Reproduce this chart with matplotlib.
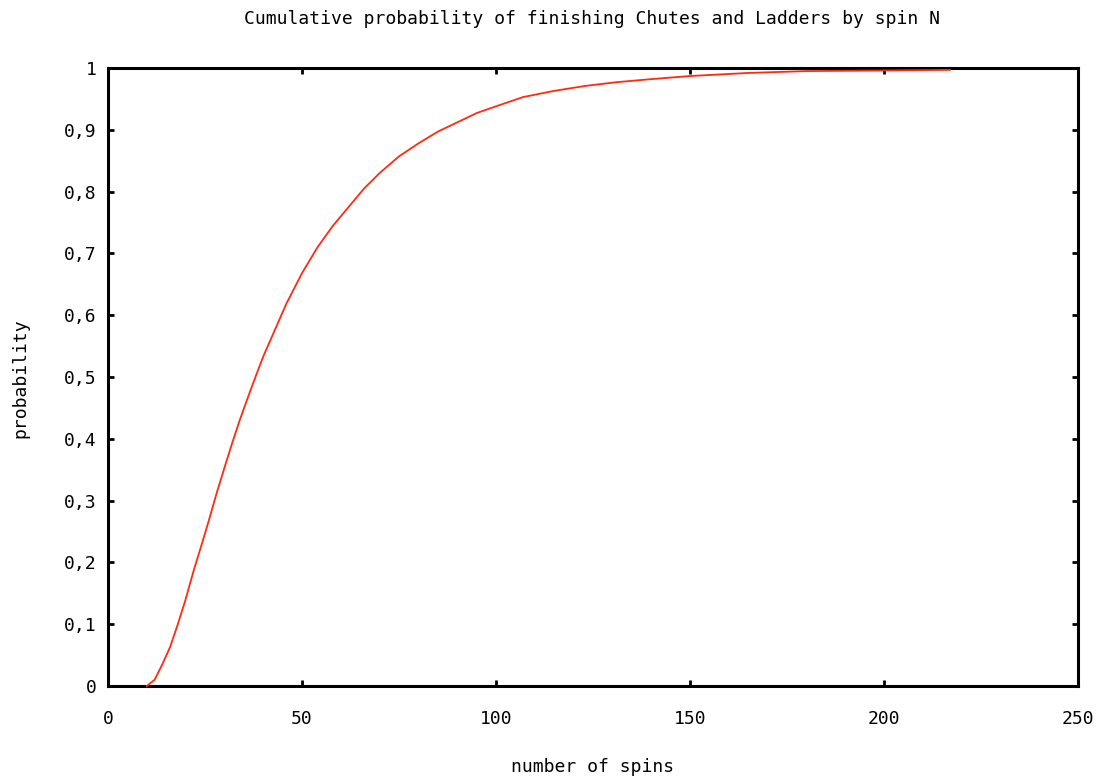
import matplotlib
matplotlib.use("Agg")
import matplotlib.pyplot as plt
from matplotlib.ticker import FuncFormatter

# number of spins N and cumulative probability of having finished by spin N
spins = [10, 12, 14, 16, 18, 20, 22, 24, 26, 28, 30, 32, 34, 36, 38, 40, 43, 46,
         50, 54, 58, 62, 66, 70, 75, 80, 85, 90, 95, 100, 107, 115, 123, 131,
         140, 150, 165, 180, 200, 217]
prob = [0.0, 0.010, 0.035, 0.063, 0.100, 0.140, 0.185, 0.226, 0.268, 0.312,
        0.353, 0.393, 0.431, 0.466, 0.500, 0.533, 0.576, 0.619, 0.668, 0.710,
        0.745, 0.775, 0.805, 0.830, 0.857, 0.878, 0.897, 0.912, 0.927, 0.938,
        0.953, 0.963, 0.971, 0.977, 0.982, 0.987, 0.992, 0.995, 0.996, 0.997]

x_ticks = [0, 50, 100, 150, 200, 250]
y_ticks = [0, 0.1, 0.2, 0.3, 0.4, 0.5, 0.6, 0.7, 0.8, 0.9, 1.0]


def comma_fmt(v, pos):
    if abs(v - round(v)) < 1e-9:
        return str(int(round(v)))
    return ("%g" % v).replace(".", ",")


def main():
    plt.rcParams["font.family"] = ["DejaVu Sans Mono"]
    fig = plt.figure(figsize=(11.02, 7.79), dpi=100)
    ax = fig.add_axes([108 / 1102, 1 - 686 / 779, 970 / 1102, 618 / 779])

    ax.plot(spins, prob, color="#ff2a10", linewidth=1.3, zorder=5, clip_on=False)

    ax.set_xlim(0, 250)
    ax.set_ylim(0, 1)
    ax.set_xticks(x_ticks)
    ax.set_yticks(y_ticks)
    ax.yaxis.set_major_formatter(FuncFormatter(comma_fmt))
    ax.tick_params(direction="in", length=4.5, width=2.0, labelsize=13,
                   top=True, right=True)
    ax.tick_params(axis="y", pad=8)
    ax.tick_params(axis="x", pad=17)
    for s in ax.spines.values():
        s.set_linewidth(2.2)

    fig.text(592 / 1102, 1 - 19 / 779, "Cumulative probability of finishing Chutes and Ladders by spin N",
             ha="center", va="center", fontsize=13)
    fig.text(593 / 1102, 1 - 767 / 779, "number of spins", ha="center", va="center", fontsize=13)
    fig.text(20 / 1102, 1 - 378 / 779, "probability", ha="center", va="center",
             rotation=90, fontsize=13)

    fig.savefig("out.png", dpi=100, facecolor="white")


if __name__ == "__main__":
    main()
